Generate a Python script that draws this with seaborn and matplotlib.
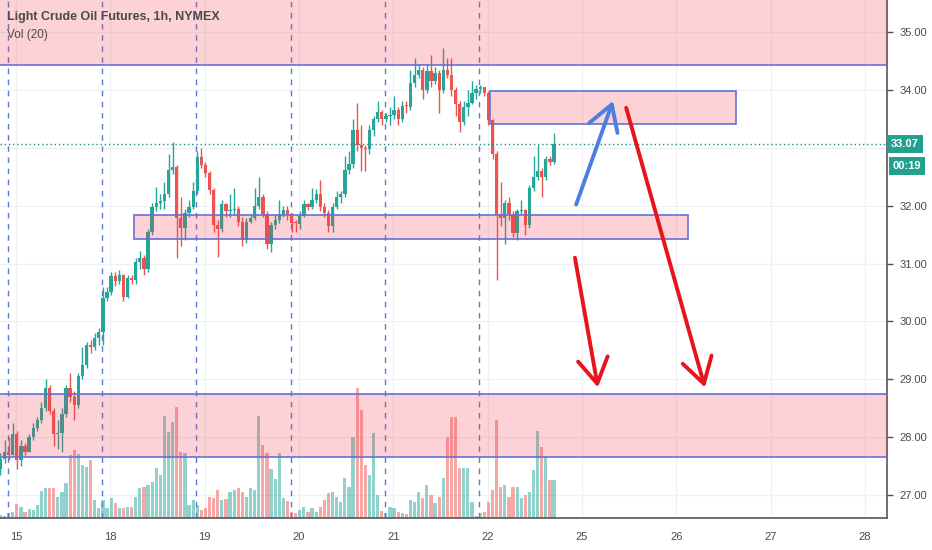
import numpy as np
import pandas as pd
import matplotlib
matplotlib.use("Agg")
import matplotlib.pyplot as plt
from matplotlib.patches import Rectangle
import seaborn as sns

# hourly candles (open = previous close)
first_open = 27.45
closes = [
    27.62, 27.75, 27.70, 28.05, 27.60, 27.85, 27.75, 28.00, 28.15, 28.30, 28.50, 28.85, 28.45,
    28.05, 28.08, 28.40, 28.85, 28.70, 28.55, 29.05, 29.25, 29.60, 29.55, 29.72, 29.82,
    30.41, 30.50, 30.78, 30.70, 30.80, 30.43, 30.75, 30.72, 31.02, 31.10, 30.90, 31.55,
    31.98, 32.05, 32.08, 32.20, 32.62, 32.67, 31.79, 31.62, 31.88, 31.98, 32.25,
    32.84, 32.70, 32.57, 32.27, 31.67, 31.60, 32.02, 31.90, 31.92, 31.95, 31.72, 31.40,
    31.72, 31.78, 32.00, 32.15, 31.85, 31.33, 31.67, 31.75, 31.85, 31.92, 31.85,
    31.70, 31.68, 31.82, 32.02, 31.98, 32.10, 32.20, 31.97, 31.88, 31.64, 31.98, 32.15,
    32.20, 32.62, 32.72, 33.30, 33.05, 33.00, 32.98, 33.30, 33.50, 33.62, 33.50, 33.55,
    33.57, 33.65, 33.50, 33.72, 33.70, 34.12, 34.25, 34.35, 34.00, 34.32, 34.15, 34.30,
    34.00, 34.35, 34.25, 34.00, 33.75, 33.45, 33.70, 33.78, 33.95,
    34.02, 34.05, 33.95, 33.48, 32.90, 31.85, 31.78, 32.05, 31.85, 31.53, 31.90, 31.93,
    31.67, 32.30, 32.50, 32.60, 32.50, 32.80, 32.75, 33.07,
]
highs = [
    27.72, 27.95, 28.00, 28.25, 28.10, 27.95, 27.90, 28.05, 28.25, 28.35, 28.60, 29.00, 28.90,
    28.50, 28.30, 28.50, 28.90, 29.10, 28.80, 29.10, 29.55, 29.65, 29.68, 29.80, 29.88,
    30.60, 30.60, 30.85, 30.85, 30.88, 30.82, 30.80, 30.80, 31.10, 31.22, 31.15, 31.60,
    32.05, 32.32, 32.20, 32.40, 32.90, 33.10, 32.70, 32.15, 31.95, 32.10, 32.40,
    32.95, 33.00, 32.75, 32.60, 32.30, 31.75, 32.10, 32.05, 32.20, 32.30, 32.00, 31.80,
    31.78, 31.85, 32.30, 32.50, 32.20, 31.90, 31.72, 31.85, 32.10, 32.00, 32.00,
    31.88, 31.75, 31.90, 32.10, 32.05, 32.30, 32.28, 32.45, 32.05, 31.92, 32.05, 32.25,
    32.25, 32.85, 32.95, 33.50, 33.77, 33.40, 33.05, 33.40, 33.55, 33.80, 33.65, 33.60,
    33.70, 33.90, 33.70, 33.80, 33.80, 34.35, 34.55, 34.45, 34.40, 34.45, 34.60, 34.40,
    34.35, 34.72, 34.55, 34.55, 34.05, 33.80, 33.80, 34.00, 34.15,
    34.08, 34.08, 34.05, 33.98, 33.50, 32.95, 32.40, 32.10, 32.15, 31.90, 31.95, 32.10,
    31.95, 32.35, 32.85, 33.05, 32.65, 32.85, 32.85, 33.26,
]
lows = [
    27.35, 27.55, 27.60, 27.85, 27.45, 27.50, 27.70, 27.75, 27.95, 28.10, 28.25, 28.45, 28.40,
    27.85, 27.80, 27.75, 28.35, 28.60, 28.30, 28.50, 29.00, 29.20, 29.45, 29.50, 29.60,
    29.60, 30.35, 30.45, 30.62, 30.65, 30.35, 30.40, 30.65, 30.65, 30.90, 30.80, 30.85,
    31.50, 31.90, 31.95, 31.95, 32.15, 32.55, 31.10, 31.30, 31.40, 31.80, 31.95,
    32.20, 32.65, 32.50, 32.20, 31.55, 31.12, 31.55, 31.80, 31.80, 31.85, 31.65, 31.30,
    31.35, 31.70, 31.75, 31.95, 31.80, 31.25, 31.20, 31.60, 31.70, 31.80, 31.75,
    31.55, 31.55, 31.60, 31.80, 31.92, 31.95, 32.05, 31.90, 31.80, 31.55, 31.55, 31.95,
    32.05, 32.15, 32.55, 32.65, 32.95, 32.60, 32.60, 32.90, 33.20, 33.45, 33.40, 33.45,
    33.40, 33.50, 33.40, 33.45, 33.60, 33.65, 34.05, 34.20, 33.85, 33.95, 34.05, 34.10,
    33.60, 33.95, 34.20, 33.90, 33.55, 33.28, 33.40, 33.55, 33.75,
    33.85, 33.95, 33.90, 33.40, 32.80, 30.72, 31.65, 31.33, 31.75, 31.45, 31.40, 31.85,
    31.50, 31.62, 32.25, 32.45, 32.15, 32.45, 32.70, 32.72,
]
# volume, thousands of contracts
volumes = [
    0.6, 0.4, 1.0, 1.2, 2.8, 2.2, 1.2, 1.8, 1.6, 2.6, 5.4, 6.0, 6.0, 6.0, 4.2, 5.2, 7.0,
    12.6, 13.6, 12.8, 10.6, 10.2, 11.6, 3.6, 2.0,
    3.6, 2.0, 4.0, 3.0, 2.0, 2.0, 2.2, 2.2, 4.2, 6.0, 6.2, 6.6, 7.2, 10.0, 8.6, 20.4,
    17.2, 19.2, 22.2, 13.2, 13.0, 2.6, 3.6,
    2.6, 1.6, 2.0, 4.2, 4.0, 5.6, 3.6, 3.8, 5.2, 5.6, 6.0, 5.2, 4.2, 6.0, 5.6, 20.4,
    14.6, 13.0, 9.8, 7.8, 13.0, 4.0, 3.4,
    1.2, 1.0, 1.6, 2.2, 1.2, 2.0, 1.2, 2.2, 3.6, 5.0, 5.2, 4.2, 3.2, 8.0, 6.2, 16.2,
    26.0, 21.6, 10.6, 8.6, 17.0, 4.6, 1.4, 1.0,
    2.2, 2.0, 1.2, 1.0, 0.8, 3.6, 3.2, 5.2, 4.0, 6.6, 4.6, 3.0, 4.2, 8.0, 16.2, 20.2,
    20.2, 10.0, 10.0, 10.0, 3.2,
    0.4, 1.0, 1.2, 3.2, 5.6, 19.6, 6.2, 6.6, 4.2, 6.2, 6.2, 4.0, 4.6, 5.2, 9.6, 17.4,
    14.2, 12.2, 7.6, 7.6,
]

day_labels = ["15", "18", "19", "20", "21", "22", "25", "26", "27", "28"]
bars_per_day = 23
session_breaks = [-2, 21, 44, 67, 90, 113]
grid_prices = [27, 28, 29, 30, 31, 32, 33, 34, 35]
price_ticks = [27, 28, 29, 30, 31, 32, 34, 35]   # 33.00 is covered by the last-price tag
last_price = 33.07
countdown = "00:19"

# zones: (x0, x1, low, high)
zones = [
    (-10, 300, 34.43, 36.0),
    (-10, 300, 27.65, 28.74),
    (28.8, 163.9, 31.43, 31.83),
    (115.6, 175.6, 33.41, 33.98),
]
# arrows: (tail x, tail price, tip x, tip price, colour)
arrows = [
    (136.6, 32.02, 145.6, 33.81, "#4a7fe0"),
    (136.3, 31.10, 141.9, 28.86, "#e8141c"),
    (148.8, 33.69, 168.0, 28.86, "#e8141c"),
]

sns.set_theme(style="white")
plt.rcParams["font.family"] = ["Liberation Sans", "DejaVu Sans"]

up_col, down_col = "#26a69a", "#ef5350"
ymin, ymax = 26.603, 35.553
vol_top = 103.6

df = pd.DataFrame({"close": closes, "high": highs, "low": lows, "volume": volumes})
df["open"] = [first_open] + closes[:-1]
df["x"] = np.arange(len(df)) - 3.8
df["up"] = df["close"] >= df["open"]
df["high"] = df[["high", "open", "close"]].max(axis=1)
df["low"] = df[["low", "open", "close"]].min(axis=1)
colors = np.where(df["up"], up_col, down_col)

fig = plt.figure(figsize=(9.32, 5.5), dpi=100)
ax = fig.add_axes([0, 32 / 550, 887 / 932, 518 / 550])
vax = ax.twinx()
ax.set_zorder(vax.get_zorder() + 1)
ax.patch.set_visible(False)
vax.set_facecolor("white")

# volume pane shares the plot, behind the candles
vax.bar(df["x"], df["volume"], width=0.78, color=colors, alpha=0.5, linewidth=0)
vax.set_ylim(0, vol_top)
vax.set_yticks([])
for s in vax.spines.values():
    s.set_visible(False)

# grid
for p in grid_prices:
    vax.axhline((p - ymin) / (ymax - ymin) * vol_top, color="#eef0f3", lw=0.9, zorder=0)
for k in range(len(day_labels)):
    vax.axvline(k * bars_per_day, color="#eef0f3", lw=0.9, zorder=0)

# session breaks
for sb in session_breaks:
    ax.axvline(sb, color="#5e78d8", lw=1, ls=(0, (4, 4)), zorder=1)

# candles
ax.vlines(df["x"], df["low"], df["high"], colors=colors, lw=1, zorder=3)
body = (df["close"] - df["open"]).to_numpy()
body = np.where(np.abs(body) < 0.02, 0.02, body)
ax.bar(df["x"], body, bottom=df["open"], width=0.8, color=colors, linewidth=0, zorder=4)

# zones
for x0, x1, lo, hi in zones:
    ax.add_patch(Rectangle((x0, lo), x1 - x0, hi - lo, facecolor=(0.95, 0.21, 0.27, 0.22),
                           edgecolor="#6670d4", lw=1.2, zorder=5))

# last price line
ax.axhline(last_price, color="#1e8c7e", lw=1, ls=(0, (1, 2)), zorder=6)

# arrows
for tx, ty, hx, hy, c in arrows:
    ax.annotate("", xy=(hx, hy), xytext=(tx, ty),
                arrowprops=dict(arrowstyle="->,head_length=1.5,head_width=0.9", color=c,
                                lw=2.8, shrinkA=0, shrinkB=0, mutation_scale=12),
                zorder=7)

ax.set_xlim(-3.9, 212.4)
ax.set_ylim(ymin, ymax)

ax.yaxis.tick_right()
ax.set_yticks(price_ticks)
ax.set_yticklabels([f"{p:.2f}" for p in price_ticks])
ax.set_xticks(np.arange(len(day_labels)) * bars_per_day)
ax.set_xticklabels(day_labels)
ax.tick_params(axis="both", length=4, width=1, color="#555555", labelsize=8,
               labelcolor="#4a4a4a", pad=3)
ax.tick_params(axis="x", pad=6)
ax.tick_params(axis="y", pad=5)
for side in ["left", "top"]:
    ax.spines[side].set_visible(False)
for side in ["right", "bottom"]:
    ax.spines[side].set_visible(True)
    ax.spines[side].set_color("#555555")
    ax.spines[side].set_linewidth(1.2)

# last price and countdown tags on the axis
tag_box = dict(boxstyle="square,pad=0.35", fc="#22a28e", ec="none")
ax.annotate(f"{last_price:.2f}", xy=(1.0, last_price), xycoords=("axes fraction", "data"),
            xytext=(3, 0), textcoords="offset points", ha="left", va="center",
            fontsize=8, color="white", fontweight="bold", bbox=tag_box, zorder=10,
            annotation_clip=False)
ax.annotate(countdown, xy=(1.0, last_price), xycoords=("axes fraction", "data"),
            xytext=(4, -16), textcoords="offset points", ha="left", va="center",
            fontsize=8, color="white", fontweight="bold", bbox=tag_box, zorder=10,
            annotation_clip=False)

fig.text(7 / 932, 1 - 17 / 550, "Light Crude Oil Futures, 1h, NYMEX", fontsize=9,
         fontweight="bold", color="#4a4a4a", va="center", ha="left")
fig.text(7 / 932, 1 - 35 / 550, "Vol (20)", fontsize=8.5, color="#4a4a4a",
         va="center", ha="left")

fig.savefig("out.png", dpi=100, facecolor="white")
